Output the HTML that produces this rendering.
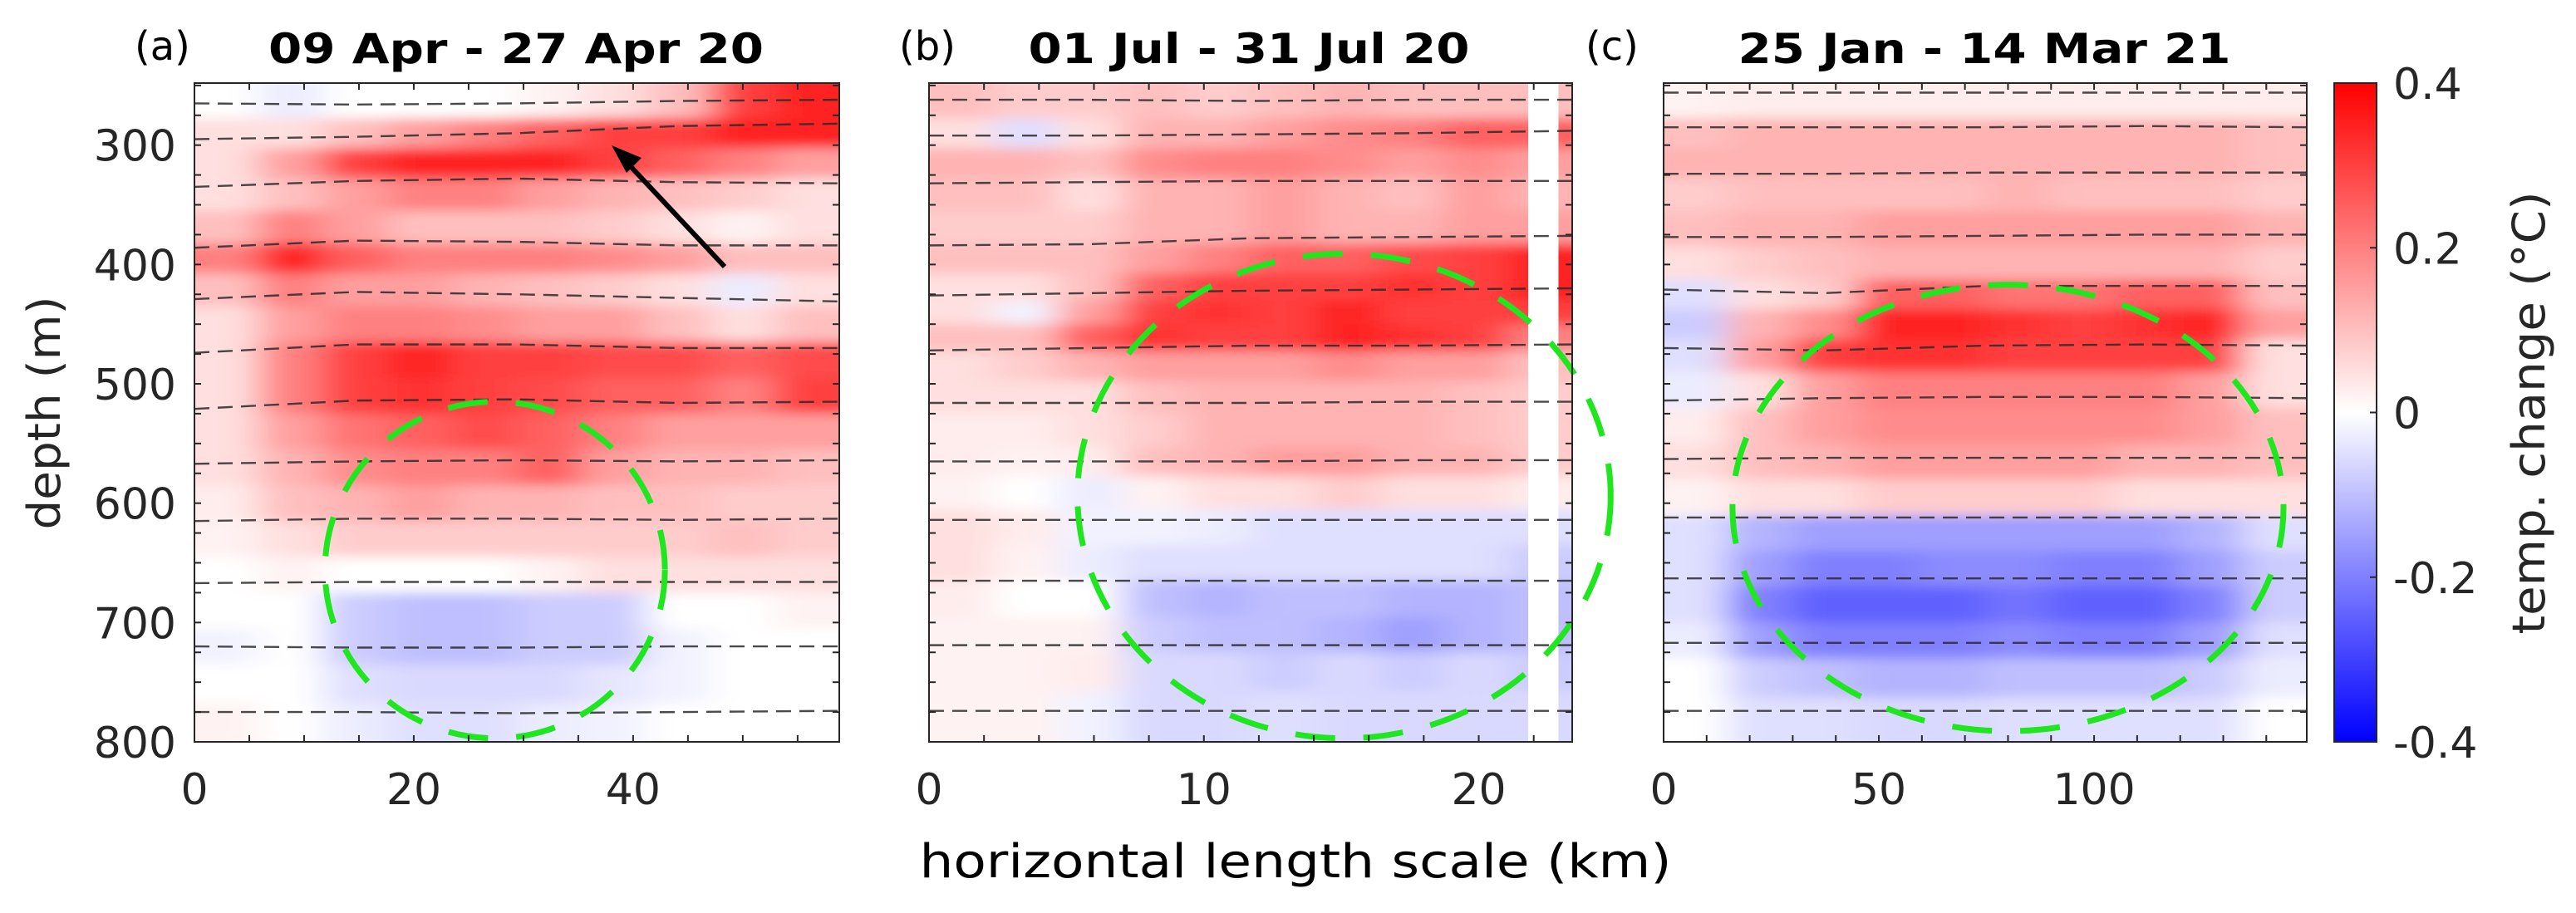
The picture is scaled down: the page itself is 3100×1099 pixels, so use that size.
<!DOCTYPE html>
<html><head><meta charset="utf-8"><style>
html,body{margin:0;padding:0;background:#fff;}
svg{display:block;font-family:"DejaVu Sans","Liberation Sans",sans-serif;}
</style></head><body>
<svg id="fig" width="3100" height="1099" viewBox="0 0 3100 1099" xmlns="http://www.w3.org/2000/svg">
<defs>
<filter id="blur" x="-10%" y="-10%" width="120%" height="120%"><feGaussianBlur stdDeviation="22 7"/></filter>
<linearGradient id="cbgrad" x1="0" y1="0" x2="0" y2="1">
<stop offset="0" stop-color="#ff0000"/><stop offset="0.5" stop-color="#ffffff"/><stop offset="1" stop-color="#0000ff"/>
</linearGradient>
</defs>
<g id="root"></g>
</svg>
<script>
// ---- data ----
const yTicks = [300,400,500,600,700,800];
const cbTicks = [0.4,0.2,0,-0.2,-0.4];
const cbLabels = ["0.4","0.2","0","-0.2","-0.4"];
const titles = ["09 Apr - 27 Apr 20","01 Jul - 31 Jul 20","25 Jan - 14 Mar 21"];
const panelTags = ["(a)","(b)","(c)"];
const xMaxes = [58.8,23.4,149.4];
const xTicksA = [0,20,40];
const xTicksB = [0,10,20];
const xTicksC = [0,50,100];
const rowsA = [265,290,315,340,370,395,420,450,480,510,540,570,600,630,660,690,720,750,785];
const valsA = [
[0,-0.03,0,0,0,0.02,0.05,0.1,0.3,0.35],
[0.05,0.05,0.1,0.15,0.2,0.25,0.3,0.3,0.35,0.35],
[0.05,0.15,0.3,0.35,0.35,0.35,0.3,0.25,0.2,0.15],
[0.05,0.1,0.15,0.2,0.2,0.15,0.12,0.1,0.08,0.05],
[0.1,0.2,0.15,0.1,0.1,0.1,0.08,0.05,0.02,0.05],
[0.2,0.35,0.25,0.2,0.2,0.2,0.18,0.15,0.1,0.1],
[0.1,0.2,0.15,0.15,0.12,0.1,0.08,0.05,-0.03,0.05],
[0.05,0.15,0.2,0.2,0.18,0.15,0.15,0.1,0.05,0.1],
[0.05,0.2,0.3,0.35,0.3,0.3,0.28,0.28,0.25,0.28],
[0.05,0.2,0.3,0.32,0.3,0.28,0.25,0.25,0.2,0.3],
[0.05,0.15,0.22,0.25,0.28,0.25,0.2,0.15,0.15,0.15],
[0.05,0.12,0.18,0.2,0.2,0.25,0.15,0.12,0.12,0.1],
[0.03,0.1,0.12,0.15,0.12,0.12,0.1,0.1,0.08,0.08],
[0.02,0.05,0.08,0.08,0.08,0.08,0.08,0.08,0.1,0.08],
[0,0.02,0,0,0,0.02,0.05,0.05,0.05,0.05],
[0,0,-0.08,-0.1,-0.1,-0.08,-0.08,0,0,0.02],
[-0.02,0,-0.08,-0.1,-0.1,-0.08,-0.08,-0.02,0,0],
[0,0,-0.05,-0.06,-0.06,-0.06,-0.04,-0.02,0,0],
[0.02,0,-0.03,-0.05,-0.05,-0.03,-0.02,0,0,0]];
const rowsB = [265,290,315,340,370,395,420,440,460,485,510,540,565,590,620,650,680,710,740,775];
const valsB = [
[0.1,0.08,0.08,0.1,0.08,0.1,0.12,0.1,0.1,0.1],
[0.05,-0.05,0.05,0.12,0.12,0.15,0.18,0.2,0.25,0.25],
[0.12,0.12,0.1,0.18,0.2,0.2,0.18,0.15,0.18,0.15],
[0.1,0.1,0.05,0.12,0.12,0.15,0.12,0.1,0.15,0.12],
[0.08,0.08,0.08,0.12,0.12,0.15,0.12,0.12,0.15,0.15],
[0.1,0.1,0.1,0.15,0.2,0.25,0.25,0.28,0.3,0.35],
[0.05,0.05,0.1,0.25,0.3,0.3,0.3,0.32,0.3,0.35],
[0.05,-0.02,0.15,0.3,0.32,0.3,0.35,0.3,0.3,0.3],
[0.1,0.1,0.25,0.32,0.3,0.3,0.35,0.32,0.3,0.2],
[0.05,0.08,0.12,0.15,0.15,0.15,0.18,0.15,0.15,0.1],
[0.05,0.05,0.05,0.1,0.12,0.12,0.12,0.12,0.1,0.08],
[0.03,0.03,0.05,0.08,0.12,0.12,0.12,0.12,0.1,0.08],
[0.03,0.02,0.03,0.1,0.12,0.15,0.15,0.12,0.12,0.08],
[0.02,0,-0.03,0.02,0.05,0.05,0.08,0.05,0.05,0.03],
[0.05,0.03,-0.02,-0.02,-0.03,-0.05,-0.05,-0.05,-0.05,-0.05],
[0.05,0.02,-0.03,-0.05,-0.05,-0.05,-0.05,-0.05,-0.05,-0.08],
[0.03,0,0,-0.1,-0.12,-0.1,-0.1,-0.12,-0.12,-0.1],
[0.02,0.02,0.02,-0.08,-0.1,-0.1,-0.12,-0.15,-0.12,-0.1],
[0.02,0.02,0.03,-0.06,-0.06,-0.08,-0.06,-0.08,-0.06,-0.08],
[0.02,0.02,-0.02,-0.06,-0.06,-0.05,-0.06,-0.06,-0.06,-0.06]];
const gapB = [21.8,22.9];
const rowsC = [265,290,315,340,370,400,425,450,475,505,535,565,595,625,655,685,715,745,780];
const valsC = [
[0.02,0.03,0.03,0.03,0.03,0.03,0.03,0.03,0.03,0.03],
[0.1,0.12,0.12,0.12,0.12,0.12,0.12,0.12,0.12,0.1],
[0.12,0.12,0.12,0.12,0.12,0.12,0.12,0.12,0.12,0.1],
[0.08,0.1,0.1,0.1,0.1,0.12,0.1,0.1,0.1,0.08],
[0.1,0.12,0.12,0.15,0.15,0.15,0.15,0.15,0.15,0.12],
[0.05,0.08,0.1,0.12,0.12,0.12,0.12,0.12,0.12,0.08],
[-0.05,0.05,0.08,0.25,0.25,0.22,0.22,0.25,0.25,0.1],
[-0.08,0.12,0.18,0.35,0.35,0.32,0.3,0.32,0.35,0.15],
[-0.05,0.15,0.3,0.32,0.32,0.3,0.3,0.3,0.3,0.05],
[-0.03,0.05,0.15,0.2,0.2,0.2,0.2,0.2,0.15,0.05],
[0.03,0.1,0.15,0.18,0.18,0.18,0.18,0.18,0.15,0.1],
[0.05,0.1,0.12,0.15,0.15,0.15,0.15,0.12,0.12,0.1],
[0.02,0.05,0.05,0.08,0.08,0.08,0.08,0.05,0.05,0.05],
[-0.05,-0.12,-0.15,-0.15,-0.15,-0.15,-0.15,-0.15,-0.12,-0.05],
[-0.05,-0.15,-0.2,-0.2,-0.18,-0.18,-0.2,-0.2,-0.15,-0.08],
[-0.05,-0.2,-0.25,-0.25,-0.25,-0.22,-0.25,-0.25,-0.2,-0.08],
[-0.03,-0.15,-0.2,-0.2,-0.2,-0.18,-0.2,-0.2,-0.15,-0.05],
[0,-0.08,-0.1,-0.12,-0.12,-0.1,-0.1,-0.1,-0.08,-0.03],
[0,-0.05,-0.05,-0.06,-0.06,-0.05,-0.05,-0.05,-0.05,0]];
const isoA = [[265,266,265,263,262],[295,293,290,284,282],[335,330,328,331,332],[386,380,381,384,384],[429,423,425,428,431],[474,467,467,470,470],[521,514,513,516,515],[567,565,564,565,564],[615,613,613,614,613],[667,666,666,666,666],[720,721,721,720,720],[775,775,776,775,774]];
const isoB = [[262,262,263,262,262],[292,292,291,290,288],[332,331,330,330,330],[384,383,378,377,376],[426,424,422,421,420],[472,470,468,468,467],[516,516,516,515,515],[565,565,565,564,564],[614,614,614,614,614],[665,665,665,665,665],[719,719,719,719,719],[774,774,774,774,774]];
const isoC = [[256,256,256,256,256],[285,285,285,284,285],[324,324,323,323,323],[377,377,376,375,375],[421,424,418,418,418],[470,472,468,467,468],[514,512,511,511,512],[563,562,562,562,562],[612,612,612,612,612],[663,663,663,663,663],[717,717,717,717,717],[774,774,774,774,774]];
const ellipses = [[27.4,656,15.5,141],[15.1,594,9.7,203],[80,604,64,187]];

// ---- layout ----
const panels = [{x0:234,x1:1010},{x0:1118,x1:1892},{x0:2002,x1:2776}];
const yTop=100, yBot=893, dMin=248, dMax=800;
const NS="http://www.w3.org/2000/svg";
const root=document.getElementById('root');
function mk(tag,attrs,parent){const e=document.createElementNS(NS,tag);for(const k in attrs)e.setAttribute(k,attrs[k]);(parent||root).appendChild(e);return e;}
function yS(d){return yTop+(d-dMin)/(dMax-dMin)*(yBot-yTop);}
function color(v){v=Math.max(-0.4,Math.min(0.4,v));const t=Math.abs(v)/0.4;const c=Math.round(255*(1-t));return v>=0?`rgb(255,${c},${c})`:`rgb(${c},${c},255)`;}
const allRows=[rowsA,rowsB,rowsC], allVals=[valsA,valsB,valsC], allIso=[isoA,isoB,isoC];
const allXT=[xTicksA,xTicksB,xTicksC], minorStep=[5,2,10];
const titleX=[621,1503,2388], titleW=[596,531,593], tagX=[162,1082,1908];

panels.forEach((p,pi)=>{
  const xS=x=>p.x0+x/xMaxes[pi]*(p.x1-p.x0);
  const g=mk('g',{});
  
  
  const cp=mk('clipPath',{id:'clip'+pi},g);
  mk('rect',{x:p.x0,y:yTop,width:p.x1-p.x0,height:yBot-yTop},cp);
  const hm=mk('g',{'clip-path':`url(#clip${pi})`},g);
  
  
  const bg=mk('g',{filter:'url(#blur)'},hm);
  const rows=allRows[pi], vals=allVals[pi], nc=vals[0].length, cw=xMaxes[pi]/nc;
  rows.forEach((d,ri)=>{
    const top = ri===0? dMin-40 : (rows[ri-1]+d)/2;
    const bot = ri===rows.length-1? dMax+40 : (rows[ri+1]+d)/2;
    vals[ri].forEach((v,ci)=>{
      let xa=xS(ci*cw), xb=xS((ci+1)*cw);
      if(ci===0) xa-=60; if(ci===nc-1) xb+=60;
      const r=mk('rect',{x:xa,y:yS(top),width:xb-xa+0.5,height:yS(bot)-yS(top)+0.5,fill:color(v)},bg);
      
      
    });
  });
  if(pi===1){
    const gp=mk('rect',{x:xS(gapB[0]),y:yTop,width:xS(gapB[1])-xS(gapB[0]),height:yBot-yTop,fill:'#fff'},hm);
    
    
  }
  allIso[pi].forEach(line=>{
    const n=line.length;
    const pts=line.map((d,i)=>`${xS(i/(n-1)*xMaxes[pi])},${yS(d)}`).join(' ');
    const pl=mk('polyline',{points:pts,fill:'none',stroke:'#2a2a2a',"stroke-width":2.4,"stroke-dasharray":"18 10",opacity:0.85},hm);
    
    
  });
  const e=ellipses[pi];
  const rx=xS(e[2])-xS(0), ry=yS(dMin+e[3])-yS(dMin);
  const el=mk('ellipse',{cx:xS(e[0]),cy:yS(e[1]),rx:rx,ry:ry,fill:'none',stroke:'#1fe61f',"stroke-width":7,"stroke-dasharray":"48 34"},g);
  
  
  const fr=mk('rect',{x:p.x0,y:yTop,width:p.x1-p.x0,height:yBot-yTop,fill:'none',stroke:'#262626',"stroke-width":2},g);
  
  
  for(let d=250; d<=800; d+=25){const y=yS(d);mk('line',{x1:p.x0,x2:p.x0+8,y1:y,y2:y,stroke:'#262626',"stroke-width":2},g);mk('line',{x1:p.x1,x2:p.x1-8,y1:y,y2:y,stroke:'#262626',"stroke-width":2},g);}
  for(let x=0; x<=xMaxes[pi]; x+=minorStep[pi]){const xx=xS(x);mk('line',{x1:xx,x2:xx,y1:yBot,y2:yBot-8,stroke:'#262626',"stroke-width":2},g);mk('line',{x1:xx,x2:xx,y1:yTop,y2:yTop+8,stroke:'#262626',"stroke-width":2},g);}
  allXT[pi].forEach(v=>{
    const t=mk('text',{x:xS(v),y:968,"text-anchor":"middle","font-size":52,fill:'#262626'},g);
    t.textContent=v;
    
    
  });
  const tl=mk('text',{x:titleX[pi],y:76,"text-anchor":"middle","font-size":50,"font-weight":"bold",fill:'#000',textLength:titleW[pi],lengthAdjust:"spacingAndGlyphs"},g);
  tl.textContent=titles[pi];
  
  
  const tg=mk('text',{x:tagX[pi],y:72,"font-size":48,fill:'#000'},g);
  tg.textContent=panelTags[pi];
  
  
});
yTicks.forEach(d=>{
  const t=mk('text',{x:212,y:yS(d)+19,"text-anchor":"end","font-size":52,fill:'#262626'});
  t.textContent=d;
  
  
});
const ar=mk('g',{});


mk('line',{x1:872,y1:321,x2:752,y2:193,stroke:'#000',"stroke-width":6},ar);
mk('polygon',{points:"736,175 772,190 754,208",fill:'#000'},ar);
const yl=mk('text',{x:0,y:0,transform:"translate(72,497) rotate(-90)","text-anchor":"middle","font-size":54,fill:'#262626',textLength:281,lengthAdjust:"spacingAndGlyphs"});
yl.textContent="depth (m)";


const xl=mk('text',{x:1559,y:1056,"text-anchor":"middle","font-size":56,fill:'#000',textLength:905,lengthAdjust:"spacingAndGlyphs"});
xl.textContent="horizontal length scale (km)";


const cb=mk('g',{});


mk('rect',{x:2809,y:yTop,width:51,height:yBot-yTop,fill:'url(#cbgrad)',stroke:'#262626',"stroke-width":2},cb);
cbTicks.forEach((v,i)=>{
  const y=yTop+(0.4-v)/0.8*(yBot-yTop);
  mk('line',{x1:2852,x2:2860,y1:y,y2:y,stroke:'#262626',"stroke-width":2},cb);
  const t=mk('text',{x:2880,y:y+19,"font-size":52,fill:'#262626'},cb);
  t.textContent=cbLabels[i];
  
  
});
const cl=mk('text',{x:0,y:0,transform:"translate(3062,497) rotate(-90)","text-anchor":"middle","font-size":54,fill:'#262626',textLength:533,lengthAdjust:"spacingAndGlyphs"});
cl.textContent="temp. change (°C)";


</script>
</body></html>
